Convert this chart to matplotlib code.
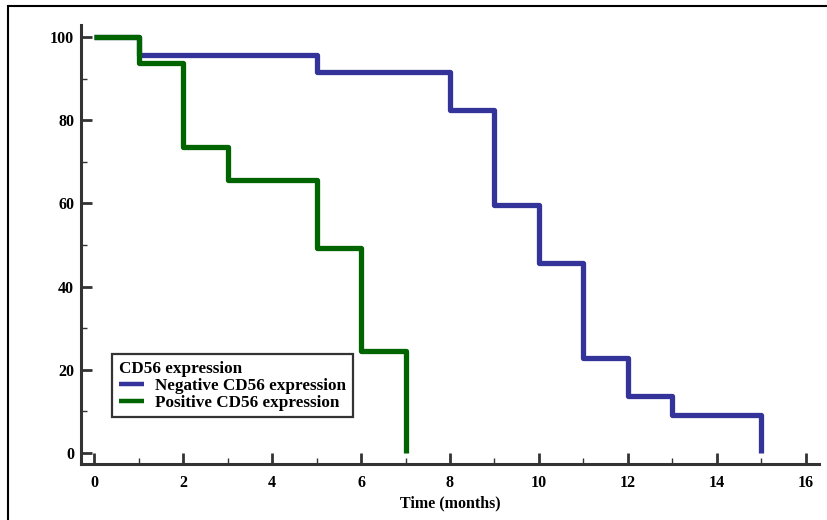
import matplotlib.pyplot as plt
from matplotlib.patches import Rectangle
from matplotlib.ticker import MultipleLocator

# survival curves (time in months, survival in %)
neg_time = [0, 1, 5, 8, 9, 10, 11, 12, 13, 15]
neg_surv = [100, 95.8, 91.7, 82.5, 59.6, 45.8, 22.9, 13.8, 9.2, 0]
pos_time = [0, 1, 2, 3, 5, 6, 7]
pos_surv = [100, 93.8, 73.6, 65.6, 49.2, 24.6, 0]

plt.rcParams['font.family'] = ['Liberation Serif', 'DejaVu Serif']
plt.rcParams['font.weight'] = 'bold'

fig = plt.figure(figsize=(8.28, 5.2), dpi=100)
ax = fig.add_axes([81 / 828, 56 / 520, (819 - 81) / 828, (464 - 25) / 520])

ax.step(neg_time, neg_surv, where='post', color='#333399', lw=3.8,
        solid_joinstyle='round', solid_capstyle='butt',
        label='Negative CD56 expression')
ax.step(pos_time, pos_surv, where='post', color='#006400', lw=3.8,
        solid_joinstyle='round', solid_capstyle='butt',
        label='Positive CD56 expression')

ax.set_xlim(-0.30, 16.3)
ax.set_ylim(-2.64, 102.9)
ax.xaxis.set_major_locator(MultipleLocator(2))
ax.xaxis.set_minor_locator(MultipleLocator(1))
ax.yaxis.set_major_locator(MultipleLocator(20))
ax.yaxis.set_minor_locator(MultipleLocator(10))

for s in ['top', 'right']:
    ax.spines[s].set_visible(False)
for s in ['left', 'bottom']:
    ax.spines[s].set_linewidth(2.2)
    ax.spines[s].set_color('#333333')

ax.tick_params(which='major', direction='in', length=8, width=2,
               color='#333333', labelsize=11.5)
ax.tick_params(axis='x', which='major', pad=8)
ax.tick_params(axis='y', which='major', pad=5)
ax.tick_params(which='minor', direction='in', length=4, width=1,
               color='#333333')
for lab in ax.get_xticklabels() + ax.get_yticklabels():
    lab.set_fontweight('bold')

ax.set_xlabel('Time (months)', fontsize=11.5, fontweight='bold', labelpad=3)

leg = ax.legend(title='CD56 expression', loc='upper left',
                bbox_to_anchor=((112 - 81) / 738, (464 - 354) / 439),
                borderaxespad=0,
                prop={'size': 12.3, 'weight': 'bold'},
                title_fontproperties={'size': 12.3, 'weight': 'bold'},
                fancybox=False, edgecolor='#333333', framealpha=1,
                handlelength=1.5, handletextpad=0.6, borderpad=0.4,
                labelspacing=0.05)
leg._legend_box.align = 'left'
leg.get_frame().set_linewidth(1.6)
for h in leg.get_lines():
    h.set_linewidth(3.2)

# outer frame of the original figure (clipped at right and bottom)
fig.patches.append(Rectangle((8 / 828, -0.1), 1.2, 1.1 - 6 / 520,
                             transform=fig.transFigure, fill=False,
                             lw=1.5, edgecolor='black'))

fig.savefig('out.png', dpi=100)
